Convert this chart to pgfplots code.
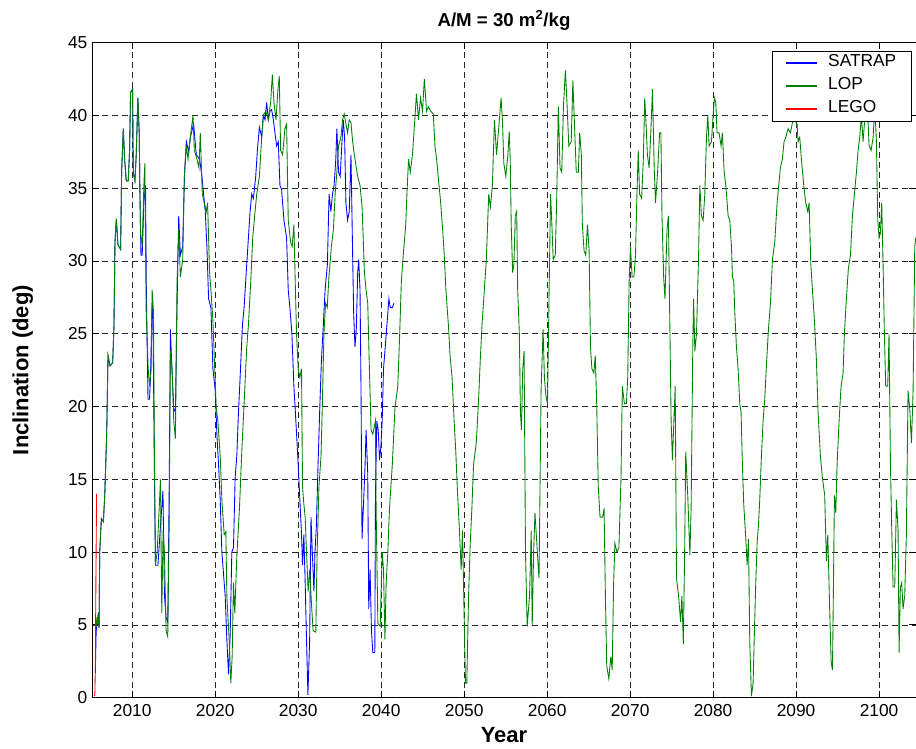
\documentclass[border=0pt]{standalone}
\usepackage{pgfplots}
\pgfplotsset{compat=1.18}
\usepackage{fontspec}
\setmainfont{Liberation Sans}
\definecolor{mgreen}{RGB}{0,128,0}
\definecolor{mblue}{RGB}{0,0,255}
\definecolor{mred}{RGB}{255,0,0}
\begin{document}
\begin{tikzpicture}
\begin{axis}[
  name=ax,
  scale only axis,
  width=618pt, height=491.25pt,
  xmin=2005.15, xmax=2104.45,
  ymin=0, ymax=45,
  xtick={2010,2020,...,2100},
  ytick={0,5,...,45},
  tick align=inside,
  major tick length=5pt,
  grid=major,
  major grid style={black!85, line width=0.5pt, dash pattern=on 4.5pt off 3pt},
  axis line style={line width=0.6pt},
  every tick/.style={black, line width=0.6pt},
  /pgf/number format/assume math mode=true,
  /pgf/number format/1000 sep={},
  ticklabel style={font=\fontsize{13}{15}\selectfont},
  xticklabel style={yshift=-1.8pt},
  title={A/M = 30 m\textsuperscript{2}/kg},
  title style={at={(axis description cs:0.5,1.0143)}, anchor=base, yshift=-1.2pt, font=\fontsize{14}{16}\selectfont\bfseries},
  xlabel={Year},
  ylabel={Inclination (deg)},
  xlabel style={at={(axis description cs:0.5,-0.0692)}, anchor=base, font=\fontsize{16.5}{18}\selectfont\bfseries},
  ylabel style={at={(axis description cs:-0.0773,0.5)}, anchor=base, font=\fontsize{16.5}{18}\selectfont\bfseries},
  legend cell align=left,
  legend image code/.code={\draw[#1, line width=1.1pt] (0pt,0pt) -- (23.5pt,0pt);},
  legend style={at={(axis description cs:1,1)}, anchor=north east, xshift=-3.5pt, yshift=-6pt,
    draw=black, line width=0.6pt, fill=white,
    font=\fontsize{13}{15}\selectfont,
    inner xsep=9.5pt, inner ysep=3pt, row sep=5pt,
    nodes={inner sep=1.5pt, text height=0.72em, text depth=0.2em},
    /tikz/every odd column/.append style={column sep=6.3pt}},
]
\addplot[draw=mblue, line width=0.65pt] coordinates {
(2005.55,1.7) (2005.65,4.5) (2005.72,4.9) (2005.88,5.6) (2006.0,4.8) (2006.08,10) (2006.28,12.3) (2006.52,12.1) (2006.68,13.8) (2006.92,18.1) (2007.08,23.5) (2007.32,22.8) (2007.64,23) (2007.8,25.6) (2007.92,31.3) (2008.08,32.9) (2008.28,31.1) (2008.6,30.8) (2008.72,36.1) (2008.92,39.1) (2009.08,37) (2009.28,35.5) (2009.52,35.5) (2009.68,37.6) (2009.8,41.6) (2010.04,41.8) (2010.12,36.1) (2010.32,35.5) (2010.48,37.3) (2010.68,41.2) (2010.84,38.8) (2010.92,34.9)
(2011.05,30.4) (2011.2,30.4) (2011.4,34) (2011.6,35.2) (2011.7,28) (2011.9,20.5) (2012.08,20.5) (2012.2,22) (2012.4,27.1) (2012.5,26) (2012.68,15) (2012.8,9.1) (2013.1,9.1) (2013.4,11.8) (2013.7,14.2) (2013.88,7) (2014.08,5.5) (2014.28,5.2) (2014.45,14) (2014.6,25.3) (2014.75,23) (2015.0,19.9) (2015.2,19.6) (2015.4,27) (2015.6,33.1) (2015.8,30.4) (2016.08,31) (2016.3,36) (2016.52,38.2) (2016.8,37.5) (2017.0,38.5) (2017.4,39.4) (2017.72,37.3) (2018.12,37) (2018.4,35.8) (2018.8,33.4) (2019.0,31) (2019.2,27.4) (2019.48,26.8) (2019.72,22.6) (2020.0,21.1) (2020.2,18.1) (2020.4,16) (2020.6,13.6) (2020.8,10) (2021.0,8.5) (2021.2,7) (2021.4,4) (2021.6,1.6) (2021.8,4.3) (2022.0,10) (2022.2,10.3) (2022.4,15.1) (2022.6,16.6) (2022.8,19.6) (2023.0,22) (2023.28,25.6) (2023.48,26.8) (2023.8,29.8) (2024.0,31.6) (2024.2,33.4) (2024.4,34.6) (2024.6,34.3) (2024.88,35.8) (2025.08,37.6) (2025.32,39.2) (2025.6,38.5) (2025.8,40) (2026.0,39.7) (2026.2,40.9) (2026.4,39.7) (2026.6,40.3) (2026.8,40.4) (2027.0,39.7) (2027.2,38.8) (2027.4,37.9) (2027.6,38.2) (2027.8,35.2) (2028.0,34.9) (2028.28,32.8) (2028.6,31.6) (2028.8,28) (2029.0,26.8) (2029.24,25) (2029.48,21.4) (2029.72,19) (2030.0,16) (2030.2,13.6) (2030.4,11.2) (2030.52,9.1) (2030.68,11.2) (2030.84,7.9) (2031.0,4) (2031.17,0.2) (2031.38,4) (2031.54,12.4) (2031.7,10) (2031.9,7.3) (2032.02,10) (2032.19,11.8) (2032.39,16) (2032.6,19.9) (2032.8,23.2) (2033.0,25.3) (2033.24,28) (2033.52,29.8) (2033.72,34.6) (2033.93,33.4) (2034.13,34.6) (2034.33,35.2) (2034.53,37) (2034.66,39.1) (2034.86,36.1) (2035.06,35.8) (2035.22,37.6) (2035.43,39.7) (2035.59,38.5) (2035.75,34) (2035.95,32.8) (2036.15,33.4) (2036.36,37.3) (2036.56,30.4) (2036.68,26.5) (2036.84,24.1) (2037.0,25.3) (2037.17,29.2) (2037.29,30.1) (2037.45,28) (2037.57,21.1) (2037.69,10.9) (2037.85,13) (2038.06,16) (2038.18,18.4) (2038.38,15.4) (2038.5,6.1) (2038.66,8.8) (2038.83,4.6) (2038.99,3.1) (2039.23,3.1) (2039.31,13.9) (2039.47,19) (2039.64,18.4) (2039.8,16.3) (2039.96,17.2) (2040.12,19) (2040.28,22.6) (2040.45,23.8) (2040.61,25) (2040.77,26.2) (2040.93,27.4) (2041.09,26.8) (2041.34,26.8) (2041.54,27.1)
};
\addlegendentry{SATRAP}
\addplot[draw=mgreen, line width=0.65pt] coordinates {
(2005.65,5.5) (2005.72,4.9) (2005.88,5.6) (2006.0,4.8) (2006.08,10) (2006.28,12.3) (2006.52,12.1) (2006.68,13.8) (2006.92,18.1) (2007.08,23.5) (2007.32,22.8) (2007.64,23) (2007.8,25.6) (2007.92,31.3) (2008.08,32.9) (2008.28,31.1) (2008.6,30.8) (2008.72,36.1) (2008.92,39.1) (2009.08,37) (2009.28,35.5) (2009.52,35.5) (2009.68,37.6) (2009.8,41.6) (2010.04,41.8) (2010.12,36.1) (2010.32,35.5) (2010.48,37.3) (2010.68,41.2) (2010.84,38.8) (2010.92,34.9) (2011.0,31.9) (2011.2,31) (2011.4,35.2) (2011.52,36.7) (2011.68,26.5) (2011.92,22.6) (2012.08,21.4) (2012.28,22.6) (2012.4,28) (2012.56,26.5) (2012.68,16) (2012.8,9.1) (2013.0,10) (2013.2,12.4) (2013.4,15) (2013.56,5.8) (2013.72,11.5) (2013.88,10) (2014.08,4.6) (2014.28,4.2) (2014.44,11.5) (2014.6,23.8) (2014.8,22.6) (2015.0,19) (2015.2,17.8) (2015.4,28.6) (2015.6,32.2) (2015.8,28.9) (2016.08,30.1) (2016.28,35.8) (2016.52,37.9) (2016.72,37) (2017.0,38.5) (2017.32,40) (2017.48,37.6) (2017.8,37) (2018.04,36.4) (2018.2,38.8) (2018.44,34.6) (2018.68,34) (2018.92,33.4) (2019.08,34) (2019.32,29.2) (2019.52,27.7) (2019.72,25.9) (2019.92,22.9) (2020.12,19.9) (2020.32,19) (2020.6,16.6) (2020.8,13.6) (2021.08,11.2) (2021.28,11.4) (2021.4,7) (2021.68,4) (2021.88,1.0) (2022.04,2.8) (2022.2,7.9) (2022.36,5.8) (2022.6,9.7) (2022.92,13) (2023.2,16.9) (2023.48,20.2) (2023.8,24.1) (2024.0,25.6) (2024.28,28.6) (2024.52,31.6) (2024.8,33.4) (2025.0,34.6) (2025.32,35.8) (2025.6,38.5) (2025.8,40) (2026.08,40.3) (2026.4,39.7) (2026.68,40.9) (2026.88,42.8) (2027.08,40.9) (2027.32,39.7) (2027.56,41.8) (2027.72,42.7) (2027.88,37.6) (2028.12,37.3) (2028.4,39.1) (2028.6,39.4) (2028.8,32.8) (2029.08,31.3) (2029.28,31) (2029.48,32.5) (2029.64,28.6) (2029.8,25) (2030.0,22.6) (2030.2,22) (2030.4,22.6) (2030.52,14.5) (2030.68,13.3) (2030.84,12.4) (2031.0,10) (2031.2,7.3) (2031.4,8.8) (2031.6,6.4) (2031.8,4.6) (2032.12,4.5) (2032.28,10) (2032.5,14.5) (2032.75,16.6) (2032.9,19.9) (2033.1,25) (2033.3,27.1) (2033.5,26.8) (2033.7,28.9) (2034.0,31) (2034.25,32.2) (2034.45,34.6) (2034.66,36.1) (2034.86,37.9) (2035.14,38.5) (2035.34,39.7) (2035.55,40.1) (2035.75,39.4) (2035.95,38.8) (2036.15,39.7) (2036.36,39.5) (2036.56,38.2) (2036.76,37.3) (2037.17,35.8) (2037.45,35.2) (2037.7,33.7) (2037.98,29.2) (2038.18,28) (2038.38,27.1) (2038.58,22.6) (2038.78,18.4) (2038.99,18.1) (2039.3,19) (2039.39,13) (2039.6,5.1) (2039.88,4.9) (2040.12,10) (2040.28,8.8) (2040.45,4) (2040.6,7.9) (2040.8,10) (2041.0,13) (2041.34,16) (2041.66,19.9) (2042.0,21.4) (2042.23,25) (2042.43,28.6) (2042.7,30.7) (2042.96,32.5) (2043.1,34.6) (2043.3,37) (2043.5,36.1) (2043.77,37.3) (2044.05,39.7) (2044.25,41.5) (2044.5,39.7) (2044.74,41.2) (2044.98,40.3) (2045.2,42.5) (2045.47,40.3) (2045.7,40.6) (2045.95,40.3) (2046.28,40.1) (2046.48,37.9) (2046.68,37) (2046.92,35.5) (2047.17,34) (2047.4,32.2) (2047.6,30.4) (2047.8,28) (2048.1,25.6) (2048.3,23.5) (2048.54,22) (2048.79,19) (2048.99,16.9) (2049.19,14.2) (2049.43,11.5) (2049.64,8.8) (2049.8,11.5) (2050.0,5.5) (2050.16,1.0) (2050.32,1.0) (2050.53,7) (2050.73,10.6) (2050.93,13) (2051.13,16) (2051.46,17.5) (2051.74,20.5) (2051.94,23.2) (2052.15,25.6) (2052.43,28) (2052.67,30.1) (2052.96,34.6) (2053.16,33.7) (2053.4,35.2) (2053.65,39.7) (2053.9,37.3)
(2054.2,39.4) (2054.45,41.2) (2054.61,39.7) (2054.78,36.7) (2055.02,35.8) (2055.27,37.3) (2055.43,38.9) (2055.55,37) (2055.67,32.5) (2055.84,29.2) (2056.0,29.8) (2056.16,33.1) (2056.33,33.4) (2056.45,28) (2056.65,25) (2056.78,19.6) (2056.9,18.4) (2057.06,22.6) (2057.22,23.8) (2057.39,10) (2057.59,4.9) (2057.88,7) (2058.08,11.5) (2058.2,4.9) (2058.37,10) (2058.53,12.7) (2058.82,10) (2059.02,8.2) (2059.27,21.1) (2059.51,25.3) (2059.67,22) (2059.84,20.8) (2060.04,20.2) (2060.24,28) (2060.41,34.6) (2060.57,32.5) (2060.73,30.1) (2060.98,30.4) (2061.14,34) (2061.35,40.6) (2061.55,36.4) (2061.76,36.1) (2061.96,40.6) (2062.2,43.1) (2062.41,40.6) (2062.61,37.9) (2062.9,38.2) (2063.1,42.4) (2063.31,39.1) (2063.51,36.1) (2063.76,36.1) (2063.92,38.8) (2064.12,37.3) (2064.24,32.5) (2064.45,30.7) (2064.65,30.4) (2064.86,32.5) (2065.06,30.7) (2065.22,24.1) (2065.39,22.6) (2065.63,22.3) (2065.8,23.5) (2065.96,20.5) (2066.16,14.5) (2066.37,12.4) (2066.69,12.4) (2066.86,13) (2067.02,7) (2067.18,2.2) (2067.43,1.3) (2067.67,2.8) (2067.84,1.9) (2068.0,7.6) (2068.16,10.6) (2068.41,10) (2068.65,10.3) (2068.9,15.1) (2069.06,21.4) (2069.31,20.2) (2069.55,20.2) (2069.71,22) (2069.88,28.6) (2070.04,31) (2070.24,28.9) (2070.45,28.9) (2070.65,30.4) (2070.82,34.6) (2070.98,37.6) (2071.14,34.6) (2071.39,34.3) (2071.59,37) (2071.76,41.2) (2071.92,39.4) (2072.08,37.3) (2072.29,36.4) (2072.49,38.8) (2072.69,41.8) (2072.9,36.4) (2073.06,34) (2073.31,36.1) (2073.55,38.8) (2073.71,38.8) (2073.84,33.1) (2074.04,28.9) (2074.2,27.4) (2074.45,32.2) (2074.61,33.1) (2074.73,28) (2074.94,19) (2075.1,16.3) (2075.27,19) (2075.43,21.4) (2075.59,8.2) (2075.84,7) (2076.08,5.2) (2076.24,7) (2076.41,3.7) (2076.57,10) (2076.7,16.9) (2076.95,13.8) (2077.2,9.8) (2077.35,13) (2077.55,24) (2077.65,27.4) (2077.8,23.8) (2078.0,25) (2078.25,30.4) (2078.4,35.2) (2078.59,33.1) (2078.8,32.8) (2079.0,34.6) (2079.2,38.5) (2079.36,40) (2079.52,37.9) (2079.8,38.2) (2080.0,40) (2080.16,41.2) (2080.32,40.9) (2080.48,38.8) (2080.72,38.8) (2080.96,37.9) (2081.12,38.8) (2081.33,36.1) (2081.53,35.2) (2081.81,33.1) (2082.01,32.8) (2082.21,31) (2082.33,28.9) (2082.49,28.6) (2082.61,26.5) (2082.81,24.1) (2083.01,22.6) (2083.21,20.2) (2083.37,19.6) (2083.53,16) (2083.69,13.3) (2083.94,10.9) (2084.1,9.1) (2084.26,10.9) (2084.42,3.7) (2084.62,0.1) (2084.82,1.0) (2084.98,4.6) (2085.14,7.9) (2085.3,10.6) (2085.46,11.8) (2085.62,13.6) (2085.82,16.6) (2086.02,19) (2086.22,20.5) (2086.43,22.9) (2086.67,25.3) (2086.91,27.1) (2087.15,30.1) (2087.43,31.3) (2087.71,34) (2087.91,35.2) (2088.11,36.4) (2088.35,37) (2088.55,38.2) (2088.76,38.5) (2089.04,39.1) (2089.32,38.8) (2089.56,39.5) (2089.8,39.7) (2090.12,39.4) (2090.24,38.2) (2090.44,38.5) (2090.64,37) (2090.92,35.2) (2091.16,34) (2091.41,33.4) (2091.57,34) (2091.77,29.8) (2091.97,28) (2092.21,25.9) (2092.45,23.2) (2092.65,19.6) (2092.93,16.6) (2093.17,15.1) (2093.45,13.9) (2093.65,9.4) (2093.82,11.2) (2094.06,5.8) (2094.22,2.5) (2094.38,1.9) (2094.46,5.5) (2094.62,13.9) (2094.78,12.7) (2094.94,16) (2095.18,19) (2095.42,21.4) (2095.66,22.3) (2095.82,25) (2096.06,27.4) (2096.3,29.5) (2096.55,30.4) (2096.79,33.1) (2097.03,34.6) (2097.27,36.1) (2097.47,37.6) (2097.67,38.5) (2097.87,40) (2098.07,38.2) (2098.31,40) (2098.55,41.2) (2098.8,37.9) (2099.04,37.6) (2099.28,38.5) (2099.48,40.6) (2099.68,38.2) (2099.84,32.8) (2100.0,31.6) (2100.16,31.9) (2100.32,34) (2100.48,29.8) (2100.64,25) (2100.8,21.4) (2101.04,21.4) (2101.2,25) (2101.37,16) (2101.53,11.5) (2101.69,7.6) (2101.89,7.6) (2102.09,13.6) (2102.29,11.5) (2102.41,3.1) (2102.57,7.6) (2102.73,7.9) (2102.89,6.1) (2103.09,7) (2103.29,11.2) (2103.49,21.1) (2103.69,19.9) (2103.9,17.5) (2104.1,21.1) (2104.3,31) (2104.42,31.6)
};
\addlegendentry{LOP}
\addplot[draw=mred, line width=0.65pt] coordinates {
(2005.45,0.1) (2005.5,0.3) (2005.55,2) (2005.62,8) (2005.7,14)
};
\addlegendentry{LEGO}
\end{axis}
\pgfresetboundingbox
\useasboundingbox ([shift={(-69pt,-38.5pt)}]ax.south west) rectangle ([shift={(0pt,32pt)}]ax.north east);
\end{tikzpicture}
\end{document}
